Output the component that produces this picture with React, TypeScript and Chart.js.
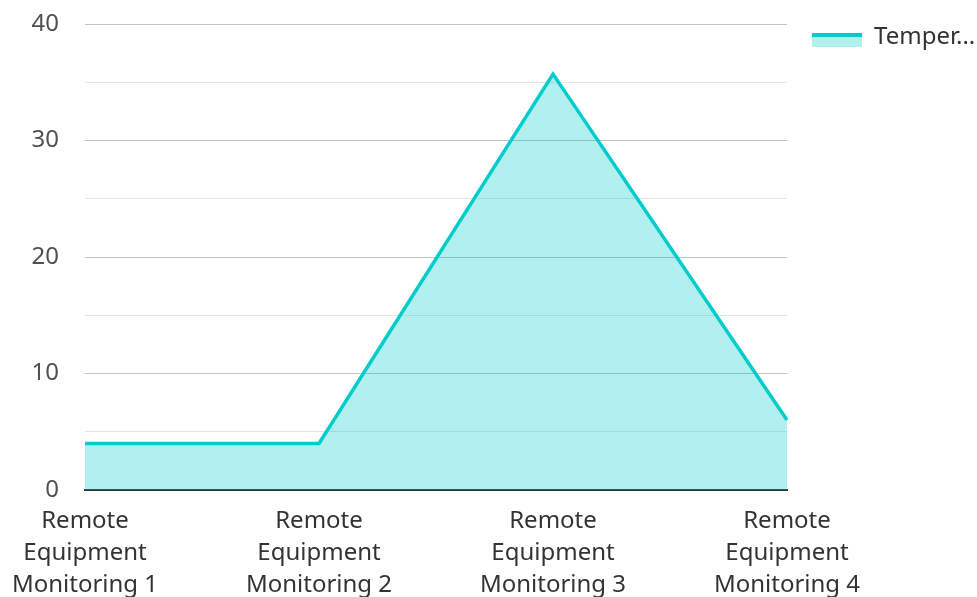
import React, { useEffect, useRef } from "react";
import { Chart, registerables } from "chart.js";

Chart.register(...registerables);

const categories: string[][] = [
  ["Remote", "Equipment", "Monitoring 1"],
  ["Remote", "Equipment", "Monitoring 2"],
  ["Remote", "Equipment", "Monitoring 3"],
  ["Remote", "Equipment", "Monitoring 4"],
];
const seriesName = "Temperature";
const legendText = "Temper...";
const temperature: number[] = [4, 4, 35.7, 6];
const yMin = 0;
const yMax = 40;
const yStep = 5;

const LINE = "#00CCCC";
const FILL = "rgba(0, 204, 204, 0.3)";
const FONT = "'Noto Sans', 'Open Sans', sans-serif";

function makeLegendIcon(): HTMLCanvasElement {
  const c = document.createElement("canvas");
  c.width = 50;
  c.height = 20;
  const g = c.getContext("2d")!;
  g.fillStyle = FILL;
  g.fillRect(0, 10, 50, 10);
  g.fillStyle = LINE;
  g.fillRect(0, 6, 50, 4);
  return c;
}

export default function App() {
  const ref = useRef<HTMLCanvasElement | null>(null);

  useEffect(() => {
    if (!ref.current) return;
    const icon = makeLegendIcon();
    const chart = new Chart(ref.current, {
      type: "line",
      data: {
        labels: categories,
        datasets: [
          {
            label: seriesName,
            data: temperature,
            borderColor: LINE,
            backgroundColor: FILL,
            borderWidth: 3.5,
            fill: "origin",
            tension: 0,
            pointRadius: 0,
            pointHoverRadius: 0,
          },
        ],
      },
      options: {
        animation: false,
        responsive: true,
        maintainAspectRatio: false,
        layout: { padding: 0 },
        plugins: {
          tooltip: { enabled: false },
          legend: {
            position: "right",
            align: "start",
            maxWidth: 190,
            labels: {
              padding: 25,
              usePointStyle: true,
              pointStyleWidth: 50,
              boxHeight: 24,
              color: "#333333",
              font: { family: FONT, size: 24 },
              generateLabels: () => [
                {
                  text: legendText,
                  pointStyle: icon as any,
                  fillStyle: FILL,
                  strokeStyle: LINE,
                  lineWidth: 0,
                  hidden: false,
                  datasetIndex: 0,
                  fontColor: "#333333",
                } as any,
              ],
            },
          },
        },
        scales: {
          x: {
            z: 1,
            offset: false,
            grid: { display: false, drawTicks: false },
            border: { display: true, color: "#333333", width: 2 },
            ticks: {
              padding: 15,
              maxRotation: 0,
              autoSkip: false,
              color: "#333333",
              font: { family: FONT, size: 24, lineHeight: "32px" as any },
            },
            afterFit: (scale: any) => {
              scale.height = 107;
              scale.paddingLeft = 0;
              scale.paddingRight = 0;
            },
          },
          y: {
            min: yMin,
            max: yMax,
            border: { display: false },
            grid: {
              drawTicks: false,
              lineWidth: 1,
              color: (ctx: any) =>
                ctx.tick && ctx.tick.value % 10 === 0 ? "#c2c2c2" : "#e4e4e4",
            },
            ticks: {
              stepSize: yStep,
              padding: 26,
              autoSkip: false,
              color: "#505050",
              font: { family: FONT, size: 24 },
              callback: (v: any) => (Number(v) % 10 === 0 ? String(v) : ""),
            },
            afterFit: (scale: any) => {
              scale.width = 85;
              scale.paddingTop = 24;
            },
          },
        },
      },
    });
    return () => chart.destroy();
  }, []);

  return (
    <div style={{ position: "fixed", left: 0, top: 0, width: 977, height: 597, background: "#fff" }}>
      <canvas ref={ref} />
    </div>
  );
}
